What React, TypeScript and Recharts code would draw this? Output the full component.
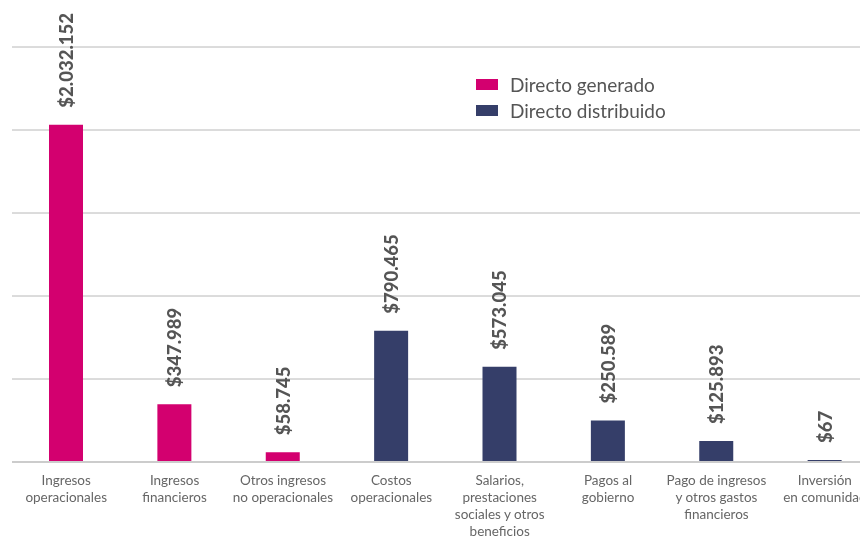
import React from 'react';
import { BarChart, Bar, XAxis, YAxis, CartesianGrid, Legend, LabelList, Cell } from 'recharts';

const categories = [
  'Ingresos\noperacionales',
  'Ingresos\nfinancieros',
  'Otros ingresos\nno operacionales',
  'Costos\noperacionales',
  'Salarios,\nprestaciones\nsociales y otros\nbeneficios',
  'Pagos al\ngobierno',
  'Pago de ingresos\ny otros gastos\nfinancieros',
  'Inversión\nen comunidad',
];
const generado = [2032152, 347989, 58745, null, null, null, null, null];
const distribuido = [null, null, null, 790465, 573045, 250589, 125893, 67];
const yTicks = [0, 500000, 1000000, 1500000, 2000000, 2500000];

const seriesNames = ['Directo generado', 'Directo distribuido'];
const PINK = '#D3006F';
const NAVY = '#353E69';

const data = categories.map((c, i) => ({
  name: c,
  value: generado[i] != null ? generado[i] : distribuido[i],
  series: generado[i] != null ? 0 : 1,
}));

const fmt = (v: number) => '$' + v.toLocaleString('de-DE');

const ValueLabel = (props: any) => {
  const { x, y, width, value } = props;
  if (value == null) return null;
  const cx = x + width / 2;
  const ty = y - 17;
  return (
    <text
      x={cx}
      y={ty}
      transform={`rotate(-90, ${cx}, ${ty})`}
      textAnchor="start"
      dominantBaseline="central"
      fill="#555555"
      fontFamily="Lato, sans-serif"
      fontWeight={900}
      fontSize={18.5}
    >
      {fmt(Number(value))}
    </text>
  );
};

const Tick = (props: any) => {
  const { x, y, payload } = props;
  const lines = String(payload.value).split('\n');
  return (
    <text x={x} y={y + 15} textAnchor="middle" fill="#666666" fontFamily="Lato, sans-serif" fontSize={13.5}>
      {lines.map((l, i) => (
        <tspan key={i} x={x} dy={i === 0 ? 0 : 17}>
          {l}
        </tspan>
      ))}
    </text>
  );
};

const LegendContent = () => (
  <div style={{ fontFamily: 'Lato, sans-serif', fontSize: 19, color: '#555555' }}>
    {seriesNames.map((n, i) => (
      <div key={n} style={{ display: 'flex', alignItems: 'center', height: 26 }}>
        <span style={{ display: 'inline-block', width: 22, height: 11, background: i === 0 ? PINK : NAVY, marginRight: 12 }} />
        <span>{n}</span>
      </div>
    ))}
  </div>
);

export default function App() {
  return (
    <div style={{ position: 'fixed', top: 8, left: 8, width: 852, height: 530, overflow: 'hidden' }}>
      <BarChart width={880} height={540} data={data} margin={{ top: 39, right: 9, left: 4, bottom: 0 }}>
        <CartesianGrid vertical={false} stroke="#b8b8b8" />
        <XAxis
          dataKey="name"
          interval={0}
          tickLine={false}
          axisLine={{ stroke: '#cccccc', strokeWidth: 2 }}
          tick={<Tick />}
          height={86}
        />
        <YAxis hide domain={[0, 2500000]} ticks={yTicks} />
        <Legend
          layout="vertical"
          align="center"
          verticalAlign="middle"
          content={<LegendContent />}
          wrapperStyle={{ position: 'absolute', left: 468, top: 63, width: 'auto' }}
        />
        <Bar dataKey="value" barSize={34} minPointSize={2} isAnimationActive={false}>
          {data.map((d, i) => (
            <Cell key={i} fill={d.series === 0 ? PINK : NAVY} />
          ))}
          <LabelList dataKey="value" content={<ValueLabel />} />
        </Bar>
      </BarChart>
    </div>
  );
}
